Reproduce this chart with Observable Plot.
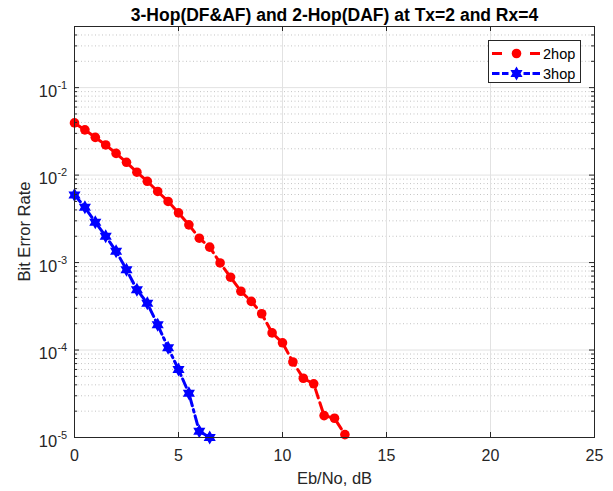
<!DOCTYPE html>
<html><head><meta charset="utf-8">
<script src="https://cdn.jsdelivr.net/npm/d3@7"></script>
<script src="https://cdn.jsdelivr.net/npm/@observablehq/plot@0.6"></script>
<style>
body{margin:0;background:#fff;font-family:"Liberation Sans",Arial,sans-serif;}
#wrap{position:relative;width:613px;height:491px;overflow:hidden;}
#legend{position:absolute;left:488px;top:40px;width:91px;height:41px;border:1px solid #262626;background:#fff;}
#legend svg{display:block;}
</style></head><body><div id="wrap"></div>
<script>
// ---- data ----
const titleText = "3-Hop(DF&AF) and 2-Hop(DAF) at Tx=2 and Rx=4";
const xLabel = "Eb/No, dB";
const yLabel = "Bit Error Rate";
const seriesNames = ["2hop", "3hop"];

const snr2 = [0,0.5,1,1.5,2,2.5,3,3.5,4,4.5,5,5.5,6,6.5,7,7.5,8,8.5,9,9.5,10,10.5,11,11.5,12,12.5,13];
const ber2 = [0.0395,0.0329,0.0270,0.0221,0.0177,0.0140,0.0108,0.0085,0.0065,0.0050,0.0037,0.0027,0.0019,0.0015,0.00099,0.00068,0.00047,0.00036,0.00026,0.000157,0.000121,0.000073,0.0000476,0.0000411,0.0000178,0.0000166,0.0000108];

const snr3 = [0,0.5,1,1.5,2,2.5,3,3.5,4,4.5,5,5.5,6,6.5];
const ber3 = [0.00594,0.00428,0.00289,0.0020,0.00135,0.00083,0.00049,0.000343,0.000194,0.000106,0.000060,0.000032,0.0000118,0.0000100];

const xTicks = [0,5,10,15,20,25];
const xTickLabels = ["0","5","10","15","20","25"];
const xGrid = [5,10,15,20];
const yMajor = [1e-5,1e-4,1e-3,1e-2,1e-1];
const yTickBase = ["10","10","10","10","10"];
const yTickExp = ["-5","-4","-3","-2","-1"];
const minorMult = [2,3,4,5,6,7,8,9];
const yMinor = yMajor.flatMap(d => minorMult.map(m => m * d)).filter(v => v < 0.49);

// ---- layout ----
const W = 613, H = 491, mL = 74, mR = 19, mT = 26, mB = 54;
const pw = W - mL - mR, ph = H - mT - mB;
const axisColor = "#262626";
const red = "#ff0000", blue = "#0000ff";
const FONT = "'Liberation Sans', Arial, sans-serif";

const hexagram = {
  draw(ctx, size) {
    const r = Math.sqrt(size / Math.PI);
    const ri = r / Math.sqrt(3);
    for (let i = 0; i < 12; i++) {
      const a = -Math.PI / 2 + i * Math.PI / 6;
      const rr = i % 2 ? ri : r;
      const x = rr * Math.cos(a), y = rr * Math.sin(a);
      if (i) ctx.lineTo(x, y); else ctx.moveTo(x, y);
    }
    ctx.closePath();
  }
};

const d2 = snr2.map((x, i) => ({x, y: ber2[i]}));
const d3s = snr3.map((x, i) => ({x, y: ber3[i]}));
const xi = xTicks.map((v, i) => i);
const yi = yMajor.map((v, i) => i);

const chart = Plot.plot({
  width: W, height: H,
  marginLeft: mL, marginRight: mR, marginTop: mT, marginBottom: mB,
  style: {fontFamily: FONT, background: "white", overflow: "visible"},
  x: {domain: [0, 25], axis: null},
  y: {type: "log", domain: [1e-5, 0.5], axis: null},
  marks: [
    Plot.ruleY(yMinor, {y: d => d, stroke: "#c4c4c4", strokeDasharray: "1,2.5"}),
    Plot.ruleY(yMajor, {y: d => d, stroke: "#e2e2e2"}),
    Plot.ruleX(xGrid, {x: d => d, stroke: "#e2e2e2"}),
    Plot.line(d2, {x: "x", y: "y", stroke: red, strokeWidth: 3, strokeDasharray: "9,5"}),
    Plot.dot(d2, {x: "x", y: "y", fill: red, r: 4.8}),
    Plot.line(d3s, {x: "x", y: "y", stroke: blue, strokeWidth: 3, strokeDasharray: "9,4,2.5,4"}),
    Plot.dot(d3s, {x: "x", y: "y", fill: blue, r: 7, symbol: hexagram}),
    Plot.frame({stroke: axisColor, strokeWidth: 1}),
    // inward ticks
    Plot.tickX(xTicks, {x: d => d, insetTop: ph - 5, stroke: axisColor}),
    Plot.tickX(xTicks, {x: d => d, insetBottom: ph - 5, stroke: axisColor}),
    Plot.tickY(yMajor, {y: d => d, insetRight: pw - 5, stroke: axisColor}),
    Plot.tickY(yMajor, {y: d => d, insetLeft: pw - 5, stroke: axisColor}),
    Plot.tickY(yMinor, {y: d => d, insetRight: pw - 3, stroke: axisColor}),
    Plot.tickY(yMinor, {y: d => d, insetLeft: pw - 3, stroke: axisColor}),
    // tick labels
    Plot.text(xi, {x: i => xTicks[i], text: i => xTickLabels[i], frameAnchor: "bottom", dy: 18.5, fontSize: 16, fill: axisColor, lineAnchor: "middle"}),
    Plot.text(yi, {y: i => yMajor[i], text: i => yTickBase[i], frameAnchor: "left", dx: -17.3, dy: 4, textAnchor: "end", fontSize: 16.5, fill: axisColor, lineAnchor: "middle"}),
    Plot.text(yi, {y: i => yMajor[i], text: i => yTickExp[i], frameAnchor: "left", dx: -7.3, dy: -2.5, textAnchor: "end", fontSize: 11, fill: axisColor, lineAnchor: "middle"}),
    // axis label and title
    Plot.text([xLabel], {frameAnchor: "bottom", dy: 41.5, fontSize: 16.5, fill: axisColor, lineAnchor: "middle"}),
    Plot.text([titleText], {frameAnchor: "top", dy: -11, fontSize: 17.5, fontWeight: "bold", fill: "#000", lineAnchor: "middle"})
  ]
});

const wrap = document.getElementById("wrap");
wrap.appendChild(chart);

// rotated y-axis label
d3.select(chart).append("text")
  .attr("transform", `translate(24,${mT + ph / 2}) rotate(-90)`)
  .attr("text-anchor", "middle").attr("dy", "0.35em")
  .attr("font-family", FONT).attr("font-size", 16.5).attr("fill", axisColor)
  .text(yLabel);

// legend
const leg = document.createElement("div");
leg.id = "legend";
wrap.appendChild(leg);
const lsvg = d3.select(leg).append("svg").attr("width", 91).attr("height", 41);
const rows = [
  {name: seriesNames[0], color: red, dash: "10,28,10", y: 12.5, sym: d3.symbolCircle, size: Math.PI * 4.8 * 4.8},
  {name: seriesNames[1], color: blue, dash: "7.5,2.5,6.5,15,6.5,2.5,7.5", y: 32.5, sym: hexagram, size: Math.PI * 49}
];
for (const r of rows) {
  lsvg.append("line").attr("x1", 3).attr("x2", 51).attr("y1", r.y).attr("y2", r.y)
    .attr("stroke", r.color).attr("stroke-width", 3).attr("stroke-dasharray", r.dash);
  lsvg.append("path").attr("d", d3.symbol(r.sym, r.size)()).attr("transform", `translate(27.5,${r.y})`).attr("fill", r.color);
  lsvg.append("text").attr("x", 54).attr("y", r.y).attr("dy", "0.36em")
    .attr("font-size", 14.5).attr("fill", "#000").attr("font-family", FONT).text(r.name);
}
</script>
</body></html>
